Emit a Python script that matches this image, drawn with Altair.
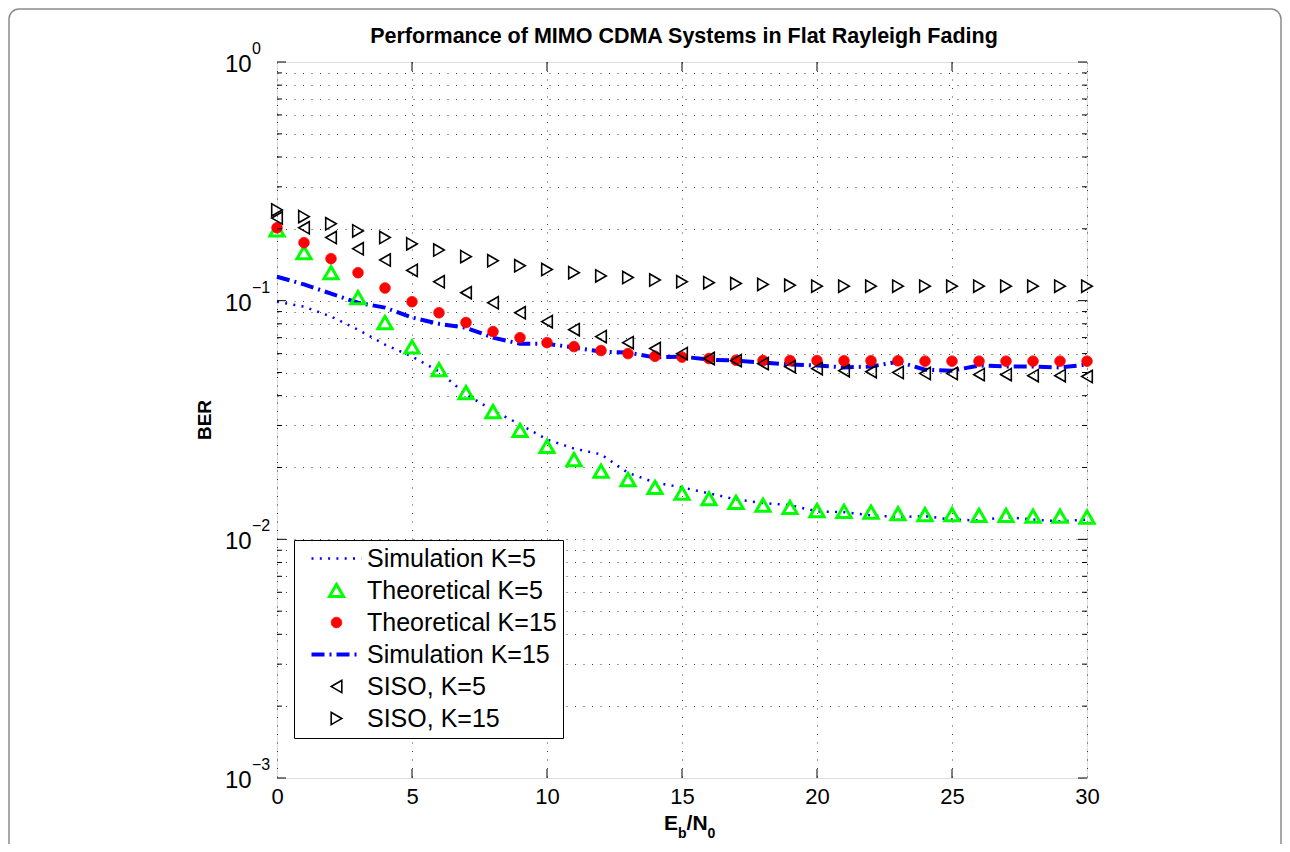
import altair as alt
import pandas as pd

# ---------------- data ----------------
ebn0 = list(range(31))

sim_k5 = [0.099, 0.0944, 0.0858, 0.0756, 0.0655, 0.0583, 0.0505, 0.0405, 0.0347, 0.0303,
          0.0262, 0.0240, 0.0227, 0.0190, 0.0173, 0.0165, 0.0156, 0.0147, 0.0142, 0.0139,
          0.0131, 0.0130, 0.0126, 0.0124, 0.0125, 0.0121, 0.0120, 0.0124, 0.0121, 0.0119, 0.0121]
theo_k5 = [0.198, 0.159, 0.131, 0.103, 0.081, 0.064, 0.0514, 0.0412, 0.0343, 0.0286,
           0.0245, 0.0216, 0.0193, 0.0178, 0.0165, 0.0156, 0.0148, 0.0143, 0.0139, 0.0136,
           0.0132, 0.0131, 0.0130, 0.0128, 0.0127, 0.0127, 0.0126, 0.0126, 0.0125, 0.0125, 0.0124]
theo_k15 = [0.202, 0.175, 0.150, 0.131, 0.113, 0.099, 0.089, 0.081, 0.0742, 0.070,
            0.0667, 0.0642, 0.0618, 0.060, 0.0585, 0.0580, 0.0572, 0.0563, 0.0561, 0.0561,
            0.0561, 0.0560, 0.0560, 0.0560, 0.0558, 0.0558, 0.0558, 0.0558, 0.0558, 0.0558, 0.0558]
sim_k15 = [0.126, 0.117, 0.107, 0.098, 0.0935, 0.085, 0.080, 0.077, 0.070, 0.066,
           0.066, 0.0636, 0.0612, 0.0606, 0.0578, 0.0583, 0.0566, 0.0561, 0.055, 0.054,
           0.0535, 0.0525, 0.053, 0.0555, 0.0514, 0.0509, 0.0535, 0.053, 0.053, 0.0525, 0.054]
siso_k5 = [0.222, 0.202, 0.184, 0.165, 0.148, 0.134, 0.120, 0.108, 0.098, 0.089,
           0.0817, 0.0756, 0.0707, 0.0667, 0.063, 0.060, 0.0572, 0.0561, 0.0545, 0.0529,
           0.0519, 0.0509, 0.0504, 0.050, 0.0495, 0.0495, 0.049, 0.049, 0.0485, 0.0485, 0.0481]
siso_k15 = [0.240, 0.225, 0.210, 0.196, 0.184, 0.173, 0.163, 0.153, 0.147, 0.140,
            0.135, 0.131, 0.127, 0.125, 0.122, 0.120, 0.119, 0.118, 0.117, 0.116,
            0.115, 0.115, 0.115, 0.115, 0.115, 0.115, 0.115, 0.115, 0.115, 0.115, 0.115]

series_names = ["Simulation K=5", "Theoretical K=5", "Theoretical K=15",
                "Simulation K=15", "SISO, K=5", "SISO, K=15"]
series_values = [sim_k5, theo_k5, theo_k15, sim_k15, siso_k5, siso_k15]

x_tick_values = [0, 5, 10, 15, 20, 25, 30]
x_grid_values = [5, 10, 15, 20, 25]
y_decades = [1, 0.1, 0.01, 0.001]
y_exponents = ["0", "\u22121", "\u22122", "\u22123"]
y_minor = [m * 10.0 ** k for k in (-3, -2, -1) for m in range(2, 10)]
y_grid_values = sorted(y_minor + [0.01, 0.1])

title_text = "Performance of MIMO CDMA Systems in Flat Rayleigh Fading"

# ---------------- tables ----------------
rows = []
for name, vals in zip(series_names, series_values):
    for x, v in zip(ebn0, vals):
        rows.append({"ebn0": x, "ber": v, "series": name})
df = pd.DataFrame(rows)

W, H = 810, 716
FONT = "Liberation Sans"

xscale = alt.Scale(domain=[0, 30], nice=False, zero=False)
yscale = alt.Scale(type="log", domain=[0.001, 1], nice=False)
xaxis = alt.Axis(values=x_tick_values, labelFontSize=22, labelFont=FONT, labelColor="black",
                 ticks=False, domain=False, labelPadding=8, title=None,
                 grid=True, gridColor="#000", gridOpacity=0.75, gridDash=[1, 7.5],
                 labelFlush=False)
yaxis = alt.Axis(values=y_grid_values, labels=False, ticks=False, domain=False, title=None,
                 grid=True, gridColor="#000", gridOpacity=0.75, gridDash=[1, 7.5])

X = alt.X("ebn0:Q", scale=xscale, axis=xaxis)
Y = alt.Y("ber:Q", scale=yscale, axis=yaxis)

# legend encodings (single merged legend)
dom = series_names
stroke_rng = ["#0000ff", "#00ff00", "#ff0000", "#0000ff", "#000000", "#000000"]
fill_rng = ["transparent", "transparent", "#ff0000", "transparent", "transparent", "transparent"]
line_path = "M-5,0L5,0"
shape_rng = [line_path, "triangle-up", "circle", line_path, "triangle-left", "triangle-right"]
dash_rng = [[2, 6.3], [1, 0], [1, 0], [13, 5, 2, 5], [1, 0], [1, 0]]
sw_rng = [2.5, 3, 1, 4, 1.6, 1.6]
size_rng = [100, 200, 110, 100, 150, 150]

leg = alt.Legend(title=None, orient="none", legendX=17, legendY=478,
                 labelFont=FONT, labelFontSize=25, labelColor="black",
                 padding=6, rowPadding=6, strokeColor="black", fillColor="white",
                 symbolOffset=24, labelOffset=18, symbolOpacity=1, labelLimit=400)

pts_df = df[df["series"].isin(["Theoretical K=5", "Theoretical K=15", "SISO, K=5", "SISO, K=15"])]

points = alt.Chart(pts_df).mark_point(filled=True, opacity=1, clip=False).encode(
    x=X, y=Y,
    stroke=alt.Stroke("series:N", scale=alt.Scale(domain=dom, range=stroke_rng), legend=leg),
    fill=alt.Fill("series:N", scale=alt.Scale(domain=dom, range=fill_rng), legend=leg),
    shape=alt.Shape("series:N", scale=alt.Scale(domain=dom, range=shape_rng), legend=leg),
    strokeDash=alt.StrokeDash("series:N", scale=alt.Scale(domain=dom, range=dash_rng), legend=leg),
    strokeWidth=alt.StrokeWidth("series:N", scale=alt.Scale(type="ordinal", domain=dom, range=sw_rng), legend=leg),
    size=alt.Size("series:N", scale=alt.Scale(type="ordinal", domain=dom, range=size_rng), legend=leg),
)

line_k5 = alt.Chart(df[df["series"] == "Simulation K=5"]).mark_line(
    color="#0000ff", strokeWidth=2.5, strokeDash=[2, 6.3]).encode(x=X, y=Y)
line_k15 = alt.Chart(df[df["series"] == "Simulation K=15"]).mark_line(
    color="#0000ff", strokeWidth=4, strokeDash=[13, 5, 2, 5]).encode(x=X, y=Y)

# inner ticks (MATLAB box style)
dec_df = pd.DataFrame({"ber": y_decades, "exp": y_exponents})
minor_df = pd.DataFrame({"ber": y_minor})
xt_df = pd.DataFrame({"ebn0": x_grid_values})

def yticks(data, length):
    left = alt.Chart(data).mark_rule(color="black", strokeWidth=1).encode(
        y=Y, x=alt.value(0), x2=alt.value(length))
    right = alt.Chart(data).mark_rule(color="black", strokeWidth=1).encode(
        y=Y, x=alt.value(W), x2=alt.value(W - length))
    return left + right

xt_bottom = alt.Chart(xt_df).mark_rule(color="black", strokeWidth=1).encode(
    x=X, y=alt.value(H), y2=alt.value(H - 9))
xt_top = alt.Chart(xt_df).mark_rule(color="black", strokeWidth=1).encode(
    x=X, y=alt.value(0), y2=alt.value(9))

# y tick labels 10^k
lab10 = alt.Chart(dec_df).mark_text(align="left", baseline="alphabetic", dy=10,
                                    fontSize=24, font=FONT, color="black").encode(
    y=Y, x=alt.value(-52), text=alt.value("10"))
labexp = alt.Chart(dec_df).mark_text(align="left", baseline="alphabetic", dy=-8,
                                     fontSize=16, font=FONT, color="black").encode(
    y=Y, x=alt.value(-25), text="exp:N")

# titles
def txt(s, x, y, size, **kw):
    return alt.Chart(pd.DataFrame({"t": [s]})).mark_text(
        font=FONT, fontWeight="bold", fontSize=size, color="black", **kw).encode(
        x=alt.value(x), y=alt.value(y), text="t:N")

main_title = txt(title_text, 407, -19, 21.5, align="center", baseline="alphabetic")
xt_E = txt("E", 387, 768, 21, align="left", baseline="alphabetic")
xt_b = txt("b", 401, 776, 14, align="left", baseline="alphabetic")
xt_N = txt("/N", 409.6, 768, 21, align="left", baseline="alphabetic")
xt_0 = txt("0", 430.6, 776, 14, align="left", baseline="alphabetic")
ylab = txt("BER", -72, H / 2, 19, align="center", baseline="middle", angle=270)

frame = alt.Chart(pd.DataFrame({"a": [0]})).mark_rect(
    fillOpacity=0, stroke="#8c8c8c", strokeWidth=1.5, cornerRadius=10).encode(
    x=alt.value(-268), x2=alt.value(1004), y=alt.value(-53), y2=alt.value(810))

chart = alt.layer(
    frame, line_k5, line_k15, points,
    yticks(dec_df, 9), yticks(minor_df, 5), xt_bottom, xt_top,
    lab10, labexp, main_title, xt_E, xt_b, xt_N, xt_0, ylab,
).properties(
    width=W, height=H,
    autosize=alt.AutoSizeParams(type="none"),
    padding={"left": 269, "top": 54, "right": 195, "bottom": 66},
).configure_view(stroke="black", strokeWidth=1.5).configure(background="white")

chart.save("out.html", embed_options={"renderer": "svg", "actions": False})
